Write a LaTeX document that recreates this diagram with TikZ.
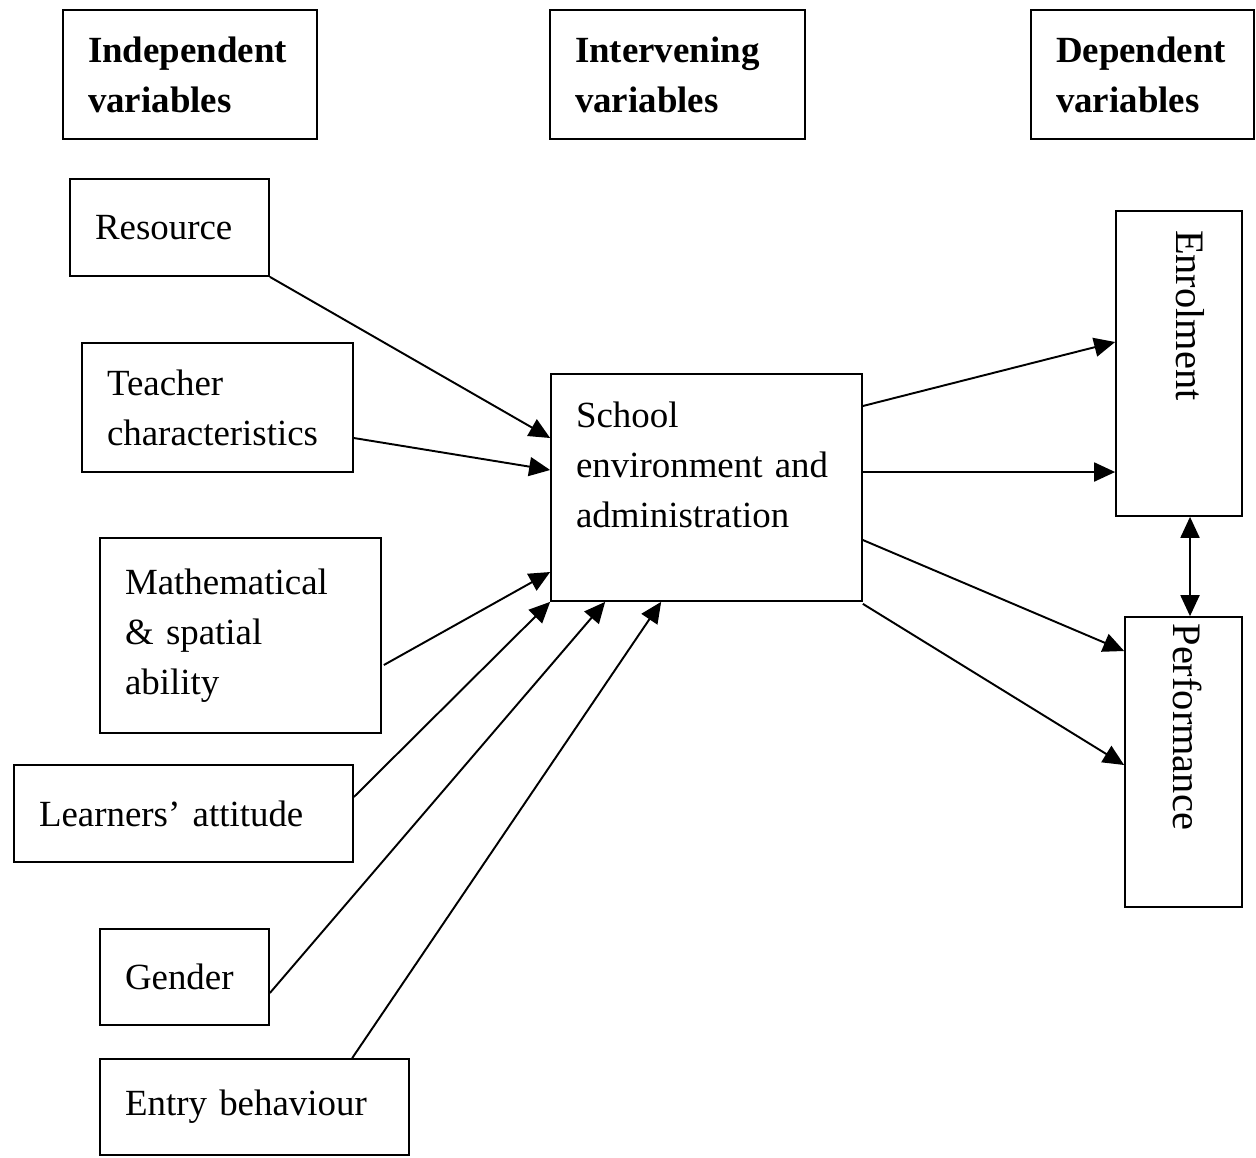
\documentclass[tikz,border=0pt]{standalone}
\usepackage{fontspec}
\setmainfont{Liberation Serif}
\usetikzlibrary{arrows.meta, calc}
\tikzset{
    box/.style={rectangle, draw, line width=1pt, align=left, inner xsep=0.5cm, inner ysep=0pt, font=\fontsize{21}{28.5}\selectfont},
    head/.style={box, font=\fontsize{21}{28.5}\selectfont\bfseries},
    vbox/.style={rectangle, draw, line width=1pt, inner sep=0pt, font=\fontsize{23}{28}\selectfont},
    arrow/.style={-{Triangle[length=4.2mm,width=3.8mm]}, line width=1.1pt},
    biarrow/.style={{Triangle[length=4.2mm,width=3.8mm]}-{Triangle[length=4.2mm,width=3.8mm]}, line width=1.1pt}
}

\begin{document}
\begin{tikzpicture}[x=0.02cm, y=-0.02cm]
    \useasboundingbox (0,0) rectangle (1256,1157);

    % Column headings
    \node[head, text width=4.08cm, minimum height=2.58cm] (ind) at (190,74.5) {Independent\\variables};
    \node[head, text width=4.10cm, minimum height=2.58cm] (int) at (677.5,74.5) {Intervening\\variables};
    \node[head, text width=3.46cm, minimum height=2.58cm] (dep) at (1142.5,74.5) {Dependent\\variables};

    % Independent variables
    \node[box, text width=2.98cm, minimum height=1.94cm] (res) at (169.5,227.5) {Resource};
    \node[box, text width=4.42cm, minimum height=2.58cm] (tea) at (217.5,407.5) {Teacher\\characteristics};
    \node[box, text width=4.62cm, minimum height=3.90cm] (mat) at (240.5,635.5) {Mathematical\\\& spatial\\ability};
    \node[box, text width=5.78cm, minimum height=1.94cm] (lea) at (183.5,813.5) {Learners’ attitude};
    \node[box, text width=2.38cm, minimum height=1.92cm] (gen) at (184.5,977) {Gender};
    \node[box, text width=5.18cm, minimum height=1.92cm] (ent) at (254.5,1107) {Entry behaviour};

    % Intervening variable
    \node[box, text width=5.22cm, minimum height=4.54cm] (sch) at (706.5,487.5) {School\\environment and\\administration\\[-0.1cm]\mbox{}};

    % Dependent variables
    \node[vbox, minimum width=2.52cm, minimum height=6.10cm] (enr) at (1179,363.5) {\hspace{0.45cm}\rotatebox{-90}{\makebox[5.34cm][l]{Enrolment}}};
    \node[vbox, minimum width=2.34cm, minimum height=5.80cm] (per) at (1183.5,762) {\hspace{0.15cm}\rotatebox{-90}{\makebox[5.54cm][l]{Performance}}};

    % Connections into the intervening variable
    \draw[arrow] (res.south east) -- ($(sch.west)+(0,-49.5)$);
    \draw[arrow] ($(tea.east)+(0,30.5)$) -- ($(sch.west)+(0,-17.5)$);
    \draw[arrow] ($(mat.east)+(2,29.5)$) -- ($(sch.west)+(0,84.5)$);
    \draw[arrow] ($(lea.east)+(0,-16.5)$) -- (sch.south west);
    \draw[arrow] ($(gen.east)+(0,16)$) -- ($(sch.south west)+(55,0)$);
    \draw[arrow] ($(ent.north west)+(253,0)$) -- ($(sch.south west)+(111,0)$);

    % Connections to the dependent variables
    \draw[arrow] ($(sch.east)+(0,-81.5)$) -- ($(enr.west)+(0,-21.5)$);
    \draw[arrow] ($(sch.east)+(0,-15.5)$) -- ($(enr.west)+(0,108.5)$);
    \draw[arrow] ($(sch.east)+(0,52.5)$) -- ($(per.west)+(0,-111)$);
    \draw[arrow] ($(sch.south east)+(0,2)$) -- ($(per.west)+(0,3)$);
    \draw[biarrow] ($(enr.south)+(11,0)$) -- ($(per.north)+(6.5,0)$);
\end{tikzpicture}
\end{document}
